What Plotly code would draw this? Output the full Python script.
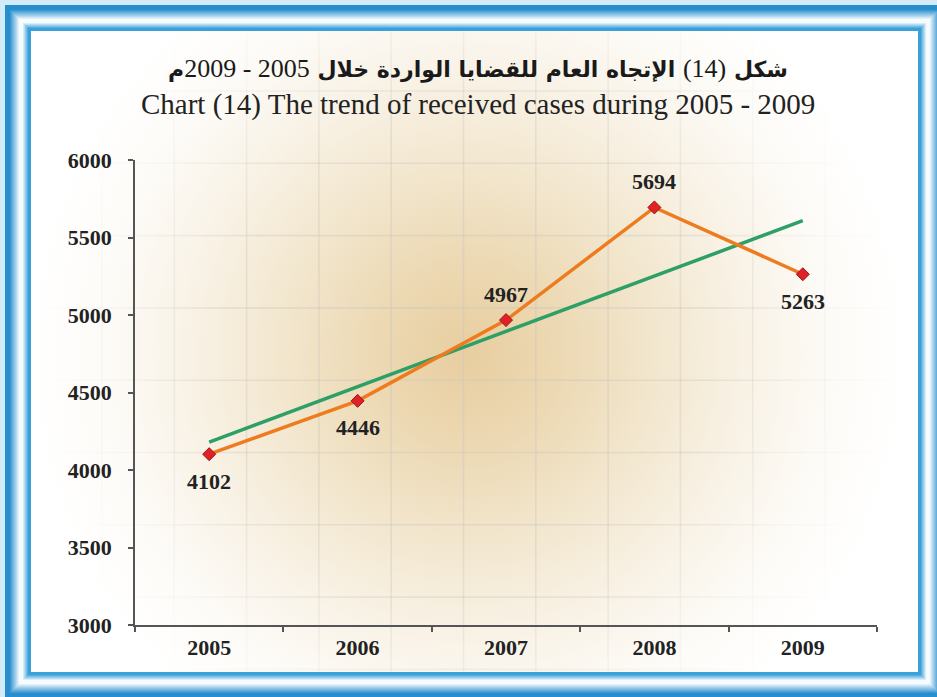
import base64
import numpy as np
import plotly.graph_objects as go

# ---------------- data ----------------
years = ["2005", "2006", "2007", "2008", "2009"]
cases = [4102, 4446, 4967, 5694, 5263]
label_side = ["below", "below", "above", "above", "below"]
y_ticks = [3000, 3500, 4000, 4500, 5000, 5500, 6000]

title_ar_1 = "شكل"
title_ar_num = "(14)"
title_ar_2 = "الإتجاه العام للقضايا الواردة خلال"
title_ar_years = "2005 - 2009"
title_ar_3 = "م"
title_en = "Chart (14) The trend of received cases during 2005 - 2009"

# linear trend line (least squares, like the spreadsheet trendline)
idx = np.arange(len(cases))
slope, intercept = np.polyfit(idx, cases, 1)
trend = slope * idx + intercept

# ---------------- geometry ----------------
W, H = 937, 697
L, R, T, B = 135, 60, 160, 72
PW, PH = W - L - R, H - T - B


def px_x(px):
    return (px - L) / PW


def px_y(py):
    return (H - B - py) / PH


# ---------------- decorative background (SVG) ----------------
def lerp(c1, c2, t):
    return tuple(round(a + (b - a) * t) for a, b in zip(c1, c2))


blue_dark = (40, 142, 206)
blue_in = (58, 160, 218)
white_c = (246, 251, 254)


def frame_color(i):
    if i <= 4:
        return blue_dark
    if i <= 14:
        return lerp(blue_dark, white_c, (i - 4) / 10)
    if i <= 17:
        return white_c
    return lerp(white_c, blue_in, min((i - 17) / 6, 1))


x0, y0, x1, y1 = 5, 5, 944, 698
parts = []
parts.append(f'<rect x="0" y="0" width="{W}" height="{H}" fill="#d4ecf9"/>')
for i in range(26):
    c = frame_color(i)
    parts.append(
        f'<rect x="{x0 + i + 0.5}" y="{y0 + i + 0.5}" width="{x1 - x0 - 2 * i - 1}" '
        f'height="{y1 - y0 - 2 * i - 1}" fill="none" stroke="rgb{c}" stroke-width="1"/>'
    )
px0, py0, px1, py1 = 31, 31, 918, 672
parts.append(f'<rect x="{px0}" y="{py0}" width="{px1 - px0}" height="{py1 - py0}" fill="url(#g)"/>')
gx = [102 + 72.3 * k for k in range(11)]
gy = [91 + 72.3 * k for k in range(9)]
for x in gx:
    parts.append(f'<line x1="{x:.1f}" y1="{py0}" x2="{x:.1f}" y2="{py1}" stroke="url(#gg)" stroke-width="1.6"/>')
for y in gy:
    parts.append(f'<line x1="{px0}" y1="{y:.1f}" x2="{px1}" y2="{y:.1f}" stroke="url(#gg)" stroke-width="1.6"/>')

svg = f'''<svg xmlns="http://www.w3.org/2000/svg" width="{W}" height="{H}" viewBox="0 0 {W} {H}">
<defs>
<radialGradient id="g" cx="468" cy="355" r="440" gradientUnits="userSpaceOnUse">
<stop offset="0" stop-color="#e8cea0"/>
<stop offset="0.2" stop-color="#ecd8b2"/>
<stop offset="0.42" stop-color="#f2e6cd"/>
<stop offset="0.62" stop-color="#f8f1e4"/>
<stop offset="0.82" stop-color="#fdfbf7"/>
<stop offset="1" stop-color="#ffffff"/>
</radialGradient>
<radialGradient id="gg" cx="468" cy="355" r="440" gradientUnits="userSpaceOnUse">
<stop offset="0" stop-color="rgb(205,200,190)" stop-opacity="0.55"/>
<stop offset="0.55" stop-color="rgb(205,200,190)" stop-opacity="0.4"/>
<stop offset="0.8" stop-color="rgb(205,200,190)" stop-opacity="0.12"/>
<stop offset="1" stop-color="rgb(205,200,190)" stop-opacity="0"/>
</radialGradient>
</defs>
{''.join(parts)}
</svg>'''
bg_uri = "data:image/svg+xml;base64," + base64.b64encode(svg.encode("utf-8")).decode("ascii")

# ---------------- figure ----------------
fig = go.Figure()

fig.add_trace(go.Scatter(
    x=years, y=trend, mode="lines",
    line=dict(color="#2e9f66", width=3.5),
    hoverinfo="skip", showlegend=False,
))
fig.add_trace(go.Scatter(
    x=years, y=cases, mode="lines+markers",
    line=dict(color="#ee7b1e", width=3.5),
    marker=dict(symbol="diamond", size=10, color="#de2228",
                line=dict(color="#9c1414", width=1)),
    showlegend=False,
))

label_font = dict(family="Liberation Serif, Times New Roman, serif", size=22,
                  color="#222222", weight="bold")
annotations = []
for i, (v, side) in enumerate(zip(cases, label_side)):
    annotations.append(dict(
        x=i, y=v, xref="x", yref="y", text=str(v), showarrow=False,
        yshift=26 if side == "above" else -27, font=label_font,
    ))

num_style = "font-family:Liberation Serif;font-weight:normal;font-size:26px"
ar_text = (
    "\u202b" + title_ar_1 + " "
    + f'<span style="{num_style}">{title_ar_num}</span> '
    + title_ar_2 + " "
    + f'<span style="{num_style}">{title_ar_years}</span>'
    + title_ar_3 + "\u202c"
)
annotations.append(dict(
    x=px_x(478), y=px_y(68), xref="paper", yref="paper",
    text=ar_text, showarrow=False,
    xanchor="center", yanchor="middle",
    font=dict(family="DejaVu Sans, sans-serif", size=22,
              color="#1a1a1a", weight="bold"),
))
annotations.append(dict(
    x=px_x(478), y=px_y(104), xref="paper", yref="paper",
    text=title_en, showarrow=False, xanchor="center", yanchor="middle",
    font=dict(family="Liberation Serif, Times New Roman, serif", size=29, color="#222222"),
))

tick_font = dict(family="Liberation Serif, Times New Roman, serif", size=22,
                 color="#222222", weight="bold")

fig.update_layout(
    width=W, height=H,
    margin=dict(l=L, r=R, t=T, b=B, pad=0),
    paper_bgcolor="rgba(0,0,0,0)",
    plot_bgcolor="rgba(0,0,0,0)",
    annotations=annotations,
    images=[dict(
        source=bg_uri, xref="paper", yref="paper",
        x=px_x(0), y=px_y(0), sizex=W / PW, sizey=H / PH,
        xanchor="left", yanchor="top", sizing="stretch", layer="below",
    )],
    xaxis=dict(
        type="category", range=[-0.5, len(years) - 0.5],
        tickson="boundaries", ticks="outside", ticklen=5, tickwidth=1.5,
        tickcolor="#555555", showline=True, linecolor="#555555", linewidth=1.5,
        showgrid=False, zeroline=False, tickfont=tick_font, ticklabelstandoff=2,
        fixedrange=True,
    ),
    yaxis=dict(
        range=[y_ticks[0], y_ticks[-1]], tickvals=y_ticks,
        ticktext=[str(t) for t in y_ticks],
        ticks="outside", ticklen=5, tickwidth=1.5, tickcolor="#555555",
        showline=True, linecolor="#555555", linewidth=1.5,
        showgrid=False, zeroline=False, tickfont=tick_font, ticklabelstandoff=12,
        fixedrange=True,
    ),
)

fig.write_html("out.html", config={"displayModeBar": False},
               post_script="document.body.style.margin='0';")
